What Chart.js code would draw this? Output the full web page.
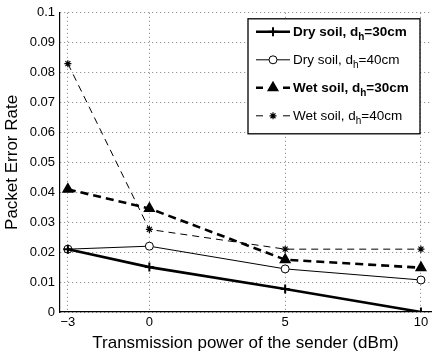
<!DOCTYPE html>
<html>
<head>
<meta charset="utf-8">
<script src="https://cdn.jsdelivr.net/npm/chart.js@4.4.1/dist/chart.umd.min.js"></script>
<style>
  html, body { margin: 0; padding: 0; background: #fff; }
</style>
</head>
<body>
<canvas id="chart" width="438" height="354"></canvas>
<script>
// data
const powers = [-3, 0, 5, 10];
const xTicks = [-3, 0, 5, 10];
const dry30 = [0.021, 0.015, 0.0077, 0.0];
const dry40 = [0.021, 0.022, 0.0144, 0.0107];
const wet30 = [0.041, 0.0346, 0.0175, 0.0148];
const wet40 = [0.083, 0.0276, 0.021, 0.021];

const FONT = "'Liberation Sans', Arial, Helvetica, sans-serif";

function pts(vals) {
    return powers.map((x, i) => ({ x: x, y: vals[i] }));
}

// legend drawn in MATLAB style (subscript h, short dashes)
const legendBox = {
    id: "legendBox",
    afterDatasetsDraw(chart) {
        const c = chart.ctx;
        const area = chart.chartArea;
        const w = 172, h = 115;
        const left = area.right - 11 - w, top = area.top + 6;
        c.save();
        c.fillStyle = "#fff";
        c.fillRect(left, top, w, h);
        c.strokeStyle = "#000";
        c.lineWidth = 1.3;
        c.setLineDash([]);
        c.strokeRect(left, top, w, h);

        chart.data.datasets.forEach((ds, i) => {
            const y = top + 13 + i * 28;
            const x0 = left + 8, x1 = left + 42, xm = left + 25;
            c.strokeStyle = "#000";
            c.lineWidth = ds.borderWidth;
            c.setLineDash([]);
            c.beginPath();
            if (ds.borderDash && ds.borderDash.length) {
                c.moveTo(x0, y); c.lineTo(x0 + 7, y);
                c.moveTo(x1 - 7, y); c.lineTo(x1, y);
            } else {
                c.moveTo(x0, y); c.lineTo(x1, y);
            }
            c.stroke();
            c.fillStyle = ds.pointBackgroundColor;
            c.strokeStyle = "#000";
            c.lineWidth = ds.pointBorderWidth;
            Chart.helpers.drawPoint(c, {
                pointStyle: ds.pointStyle,
                radius: ds.pointRadius,
                rotation: 0,
                borderWidth: ds.pointBorderWidth
            }, xm, y);

            const bold = ds.legendBold ? "bold " : "";
            c.fillStyle = "#000";
            c.textBaseline = "middle";
            c.textAlign = "left";
            let tx = left + 45;
            c.font = bold + "13.5px " + FONT;
            c.fillText(ds.labelMain, tx, y);
            tx += c.measureText(ds.labelMain).width;
            c.font = bold + "10px " + FONT;
            c.fillText("h", tx, y + 5);
            tx += c.measureText("h").width;
            c.font = bold + "13.5px " + FONT;
            c.fillText(ds.labelRest, tx, y);
        });
        c.restore();
    }
};

const gridStyle = {
    color: "rgba(0,0,0,0.5)",
    lineWidth: 1,
    drawTicks: false
};

new Chart(document.getElementById("chart").getContext("2d"), {
    type: "line",
    data: {
        datasets: [
            {
                label: "Dry soil, dh=30cm", labelMain: "Dry soil, d", labelRest: "=30cm", legendBold: true,
                data: pts(dry30), borderColor: "#000", borderWidth: 2.6,
                pointStyle: "cross", pointRadius: 4.5, pointBorderWidth: 2,
                pointBackgroundColor: "#000", pointBorderColor: "#000"
            },
            {
                label: "Dry soil, dh=40cm", labelMain: "Dry soil, d", labelRest: "=40cm", legendBold: false,
                data: pts(dry40), borderColor: "#000", borderWidth: 1,
                pointStyle: "circle", pointRadius: 4, pointBorderWidth: 1,
                pointBackgroundColor: "#fff", pointBorderColor: "#000"
            },
            {
                label: "Wet soil, dh=30cm", labelMain: "Wet soil, d", labelRest: "=30cm", legendBold: true,
                data: pts(wet30), borderColor: "#000", borderWidth: 2.6, borderDash: [8, 5],
                pointStyle: "triangle", pointRadius: 5.5, pointBorderWidth: 1.5,
                pointBackgroundColor: "#000", pointBorderColor: "#000"
            },
            {
                label: "Wet soil, dh=40cm", labelMain: "Wet soil, d", labelRest: "=40cm", legendBold: false,
                data: pts(wet40), borderColor: "#000", borderWidth: 1, borderDash: [7, 5],
                pointStyle: "star", pointRadius: 3.5, pointBorderWidth: 1.2,
                pointBackgroundColor: "#000", pointBorderColor: "#000"
            }
        ]
    },
    options: {
        responsive: false,
        animation: false,
        layout: { padding: { top: 6, right: 0, left: 0, bottom: 0 } },
        plugins: {
            legend: { display: false },
            tooltip: { enabled: false }
        },
        scales: {
            x: {
                type: "linear",
                min: -3.29,
                max: 10.37,
                afterBuildTicks: s => { s.ticks = xTicks.map(v => ({ value: v })); },
                afterFit: s => { s.height = 42; },
                ticks: {
                    color: "#000",
                    font: { family: FONT, size: 13 },
                    padding: 3,
                    maxRotation: 0,
                    callback: v => (v < 0 ? "\u2212" + Math.abs(v) : String(v))
                },
                grid: Object.assign({}, gridStyle),
                border: { display: true, color: "#000", width: 1.2, dash: [1, 3] },
                title: {
                    display: true,
                    text: "Transmission power of the sender (dBm)",
                    color: "#000",
                    font: { family: FONT, size: 17 },
                    padding: { top: 0, bottom: 0 }
                }
            },
            y: {
                min: 0,
                max: 0.1,
                afterFit: s => { s.width = 60; },
                ticks: {
                    stepSize: 0.01,
                    color: "#000",
                    font: { family: FONT, size: 13 },
                    padding: 5,
                    callback: v => String(Number(v.toFixed(3)))
                },
                grid: Object.assign({}, gridStyle),
                border: { display: true, color: "#000", width: 1.2, dash: [1, 3] },
                title: {
                    display: true,
                    text: "Packet Error Rate",
                    color: "#000",
                    font: { family: FONT, size: 17 },
                    padding: { top: 2, bottom: 0 }
                }
            }
        }
    },
    plugins: [legendBox]
});
</script>
</body>
</html>
